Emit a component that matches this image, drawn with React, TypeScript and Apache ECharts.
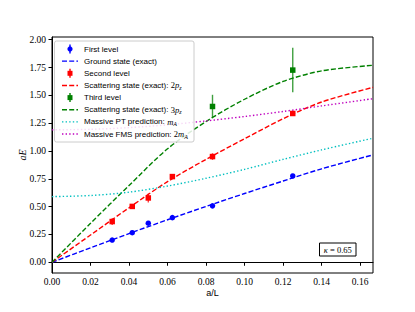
import React, { useEffect, useRef } from "react";
import * as echarts from "echarts";

// ---- data ----
const xTicks = [0, 0.02, 0.04, 0.06, 0.08, 0.1, 0.12, 0.14, 0.16];
const yTicks = [0, 0.25, 0.5, 0.75, 1.0, 1.25, 1.5, 1.75, 2.0];

const levelX = [0.03125, 0.041667, 0.05, 0.0625, 0.083333, 0.125];
const firstVals = [0.2, 0.266, 0.351, 0.401, 0.507, 0.776];
const firstErr = [0.006, 0.006, 0.008, 0.006, 0.008, 0.014];
const secondVals = [0.366, 0.502, 0.578, 0.77, 0.95, 1.337];
const secondErr = [0.03, 0.015, 0.04, 0.02, 0.03, 0.02];
const thirdX = [0.083333, 0.125];
const thirdVals = [1.4, 1.727];
const thirdErr = [0.105, 0.2];

const curveX = [0, 0.02, 0.04, 0.06, 0.08, 0.1, 0.12, 0.14, 0.166667];
const groundCurve = [0, 0.13, 0.258, 0.382, 0.502, 0.618, 0.73, 0.84, 0.965];
const scatter2Curve = [0, 0.245, 0.49, 0.725, 0.925, 1.11, 1.29, 1.44, 1.572];
const scatter3Curve = [0, 0.35, 0.69, 1.02, 1.265, 1.465, 1.625, 1.72, 1.77];
const ptCurve = [0.59, 0.6, 0.63, 0.685, 0.755, 0.835, 0.925, 1.01, 1.115];
const fmsCurve = [1.19, 1.195, 1.21, 1.235, 1.27, 1.31, 1.355, 1.405, 1.47];

const legendLabels = [
  "{n|First level}",
  "{n|Ground state (exact)}",
  "{n|Second level}",
  "{n|Scattering state (exact): }{m|2}{i|p}{s|z}",
  "{n|Third level}",
  "{n|Scattering state (exact): }{m|3}{i|p}{s|z}",
  "{n|Massive PT prediction: }{i|m}{s|A}",
  "{n|Massive FMS prediction: }{m|2}{i|m}{s|A}",
];

const BLUE = "#0000ff";
const RED = "#ff0000";
const GREEN = "#008000";
const CYAN = "#00bfbf";
const MAGENTA = "#bf00bf";
const DASH = [5, 2.2];
const DOT = [1.4, 2.2];
const SERIF = "'Liberation Serif', 'DejaVu Serif', serif";
const SANS = "'Liberation Sans', 'DejaVu Sans', sans-serif";

const pairs = (xs: number[], ys: number[]) => xs.map((x, i) => [x, ys[i]]);
const triples = (xs: number[], ys: number[], es: number[]) =>
  xs.map((x, i) => [x, ys[i], es[i]]);

function errSeries(data: number[][], color: string) {
  return {
    type: "custom",
    data,
    encode: { x: 0, y: 1 },
    z: 3,
    renderItem: (params: any, api: any) => {
      const x = api.value(0);
      const y = api.value(1);
      const e = api.value(2);
      const p1 = api.coord([x, y - e]);
      const p2 = api.coord([x, y + e]);
      return {
        type: "line",
        shape: { x1: p1[0], y1: p1[1], x2: p2[0], y2: p2[1] },
        style: { stroke: color, lineWidth: 1.4, opacity: 0.75 },
      };
    },
  };
}

function curve(ys: number[], color: string, dash: number[]) {
  return {
    type: "line",
    data: pairs(curveX, ys),
    smooth: 0.3,
    showSymbol: false,
    z: 2,
    lineStyle: { color, width: 1.4, type: dash, cap: "butt" },
  };
}

function pts(xs: number[], ys: number[], color: string, symbol: string, size: number) {
  return {
    type: "scatter",
    data: pairs(xs, ys),
    symbol,
    symbolSize: size,
    z: 4,
    itemStyle: { color, opacity: 1 },
  };
}

const richStyles = {
  n: { fontFamily: SANS, fontSize: 8, fill: "#000", lineHeight: 11 },
  m: { fontFamily: SERIF, fontSize: 8.5, fill: "#000", lineHeight: 11 },
  i: { fontFamily: SERIF, fontSize: 8.5, fontStyle: "italic", fill: "#000", lineHeight: 11 },
  s: {
    fontFamily: SERIF,
    fontSize: 6,
    fontStyle: "italic",
    fill: "#000",
    lineHeight: 6,
    verticalAlign: "bottom",
  },
};

function buildLegend() {
  const els: any[] = [];
  const y0 = 49;
  const gap = 12.15;
  els.push({
    type: "rect",
    shape: { x: 54.5, y: 41, width: 139.5, height: 101, r: 2 },
    style: { fill: "rgba(255,255,255,0.85)", stroke: "#cccccc", lineWidth: 1 },
    z: 100,
  });
  const icons = [
    { kind: "pt", color: BLUE, sym: "circle" },
    { kind: "line", color: BLUE, dash: DASH },
    { kind: "pt", color: RED, sym: "rect" },
    { kind: "line", color: RED, dash: DASH },
    { kind: "pt", color: GREEN, sym: "rect" },
    { kind: "line", color: GREEN, dash: DASH },
    { kind: "line", color: CYAN, dash: DOT },
    { kind: "line", color: MAGENTA, dash: DOT },
  ];
  icons.forEach((ic: any, k) => {
    const y = y0 + k * gap;
    if (ic.kind === "pt") {
      els.push({
        type: "line",
        shape: { x1: 70, y1: y - 4.5, x2: 70, y2: y + 4.5 },
        style: { stroke: ic.color, lineWidth: 1.4 },
        z: 101,
      });
      if (ic.sym === "circle") {
        els.push({
          type: "circle",
          shape: { cx: 70, cy: y, r: 2.6 },
          style: { fill: ic.color },
          z: 102,
        });
      } else {
        els.push({
          type: "rect",
          shape: { x: 67.5, y: y - 2.5, width: 5, height: 5 },
          style: { fill: ic.color },
          z: 102,
        });
      }
    } else {
      els.push({
        type: "line",
        shape: { x1: 62, y1: y, x2: 78, y2: y },
        style: { stroke: ic.color, lineWidth: 1.4, lineDash: ic.dash },
        z: 101,
      });
    }
    els.push({
      type: "text",
      x: 84,
      y,
      z: 102,
      style: {
        text: legendLabels[k],
        rich: richStyles,
        fontFamily: SANS,
        fontSize: 8,
        fill: "#000",
        verticalAlign: "middle",
        align: "left",
      },
    });
  });
  // kappa box
  els.push({
    type: "rect",
    shape: { x: 319.5, y: 243, width: 36.5, height: 13 },
    style: { fill: "#fff", stroke: "#000", lineWidth: 1 },
    z: 100,
  });
  els.push({
    type: "text",
    x: 337.75,
    y: 249.5,
    z: 101,
    style: {
      text: "{i|κ}{m| = 0.65}",
      rich: {
        i: { fontFamily: SERIF, fontSize: 8.5, fontStyle: "italic", fill: "#000" },
        m: { fontFamily: SERIF, fontSize: 8.5, fill: "#000" },
      },
      align: "center",
      verticalAlign: "middle",
    },
  });
  return els;
}

export default function App() {
  const ref = useRef<HTMLDivElement>(null);
  useEffect(() => {
    if (!ref.current) return;
    const chart = echarts.init(ref.current, null, { renderer: "svg" });
    chart.setOption({
      animation: false,
      backgroundColor: "#fff",
      grid: {
        left: 52,
        right: 42,
        top: 37,
        bottom: 39,
        show: true,
        borderColor: "#000",
        borderWidth: 1,
        containLabel: false,
        outerBoundsMode: "none",
      },
      xAxis: {
        type: "value",
        min: 0,
        max: 0.166667,
        name: "a/L",
        nameLocation: "middle",
        nameGap: 15,
        nameMoveOverlap: false,
        nameTextStyle: { fontFamily: SANS, fontSize: 9, color: "#000", verticalAlign: "top" },
        splitLine: { show: false },
        axisLine: { show: true, lineStyle: { color: "#000", width: 1 } },
        axisTick: {
          show: true,
          inside: false,
          length: 3.5,
          lineStyle: { color: "#000", width: 1 },
          customValues: xTicks,
        },
        axisLabel: {
          customValues: xTicks,
          margin: 4,
          fontFamily: SERIF,
          fontSize: 9.5,
          color: "#000",
          formatter: (v: number) => v.toFixed(2),
        },
      },
      yAxis: {
        type: "value",
        min: -0.0964,
        max: 2.0244,
        name: "aE",
        nameLocation: "middle",
        nameGap: 25,
        nameMoveOverlap: false,
        nameRotate: 90,
        nameTextStyle: { fontFamily: SERIF, fontSize: 10, fontStyle: "italic", color: "#000" },
        splitLine: { show: false },
        axisLine: { show: true, lineStyle: { color: "#000", width: 1 } },
        axisTick: {
          show: true,
          inside: false,
          length: 3.5,
          lineStyle: { color: "#000", width: 1 },
          customValues: yTicks,
        },
        axisLabel: {
          customValues: yTicks,
          margin: 6,
          fontFamily: SERIF,
          fontSize: 9.5,
          color: "#000",
          formatter: (v: number) => v.toFixed(2),
        },
      },
      series: [
        curve(groundCurve, BLUE, DASH),
        curve(scatter2Curve, RED, DASH),
        curve(scatter3Curve, GREEN, DASH),
        curve(ptCurve, CYAN, DOT),
        curve(fmsCurve, MAGENTA, DOT),
        errSeries(triples(levelX, firstVals, firstErr), BLUE),
        errSeries(triples(levelX, secondVals, secondErr), RED),
        errSeries(triples(thirdX, thirdVals, thirdErr), GREEN),
        pts(levelX, firstVals, BLUE, "circle", 5.5),
        pts(levelX, secondVals, RED, "rect", 5.5),
        pts(thirdX, thirdVals, GREEN, "rect", 5.5),
      ],
      graphic: { elements: buildLegend() },
    });
    return () => chart.dispose();
  }, []);
  return (
    <div
      ref={ref}
      style={{ position: "fixed", left: 0, top: 0, width: 415, height: 312 }}
    />
  );
}
